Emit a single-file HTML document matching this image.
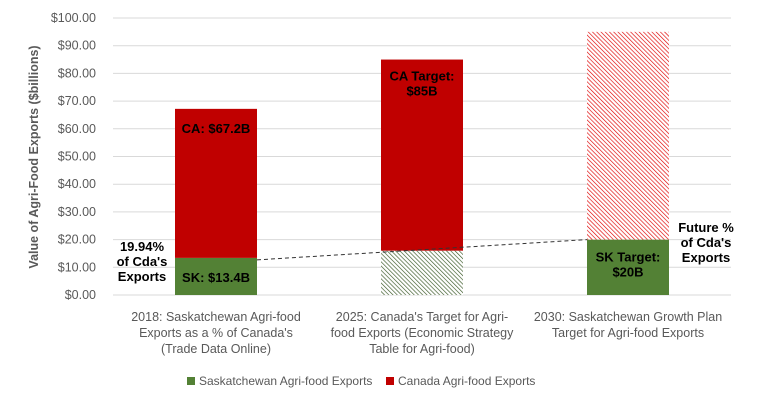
<!DOCTYPE html>
<html><head><meta charset="utf-8"><style>
body{margin:0;background:#fff;}
svg text{font-family:"Liberation Sans",Arial,sans-serif;}
</style></head><body>
<svg id="c" width="760" height="402" viewBox="0 0 760 402">
<defs>
<pattern id="hg" width="3" height="3" patternUnits="userSpaceOnUse" patternTransform="rotate(-45)"><rect width="3" height="3" fill="#fff"/><line x1="0" y1="0" x2="0" y2="3" stroke="#375623" stroke-width="1.3"/></pattern>
<pattern id="hr" width="3" height="3" patternUnits="userSpaceOnUse" patternTransform="rotate(-45)"><rect width="3" height="3" fill="#fff"/><line x1="0" y1="0" x2="0" y2="3" stroke="#e00000" stroke-width="1.3"/></pattern>
</defs>
<g id="grid"></g><g id="bars"></g><g id="labels"></g>
</svg>
<script>
const categories=[["2018: Saskatchewan Agri-food","Exports as a % of Canada's","(Trade Data Online)"],["2025: Canada's Target for Agri-","food Exports (Economic Strategy","Table for Agri-food)"],["2030: Saskatchewan Growth Plan","Target for Agri-food Exports"]];
const skValues=[13.4,16,20];
const caValues=[67.2,85,95];
const skProjected=[false,true,false];
const caProjected=[false,false,true];
const yTicks=[0,10,20,30,40,50,60,70,80,90,100];
const NS="http://www.w3.org/2000/svg";
const X0=113,PW=618,Y0=295,Y1=18;
const y=v=>Y0-(v/100)*(Y0-Y1);
const xc=i=>X0+PW/categories.length*(i+0.5);
const BW=82;
function mk(t,a,p){const e=document.createElementNS(NS,t);for(const k in a)e.setAttribute(k,a[k]);p.appendChild(e);return e;}
const g=document.getElementById('grid'),b=document.getElementById('bars'),l=document.getElementById('labels');
yTicks.forEach(v=>{
 const ln=mk('line',{x1:X0,x2:X0+PW,y1:y(v),y2:y(v),stroke:'#d9d9d9','stroke-width':1},g);
 
 
 const t=mk('text',{x:96,y:y(v)+4,'text-anchor':'end','font-size':12.5,fill:'#595959'},g);
 t.textContent='$'+v.toFixed(2);
 
 
});
const yt=mk('text',{x:0,y:0,transform:'translate(38,157) rotate(-90)','text-anchor':'middle','font-size':12.5,'font-weight':'bold',fill:'#595959'},g);
yt.textContent='Value of Agri-Food Exports ($billions)';


categories.forEach((c,i)=>{
 const x=xc(i)-BW/2;
 const s=mk('rect',{x:x,y:y(skValues[i]),width:BW,height:y(0)-y(skValues[i]),fill:skProjected[i]?'url(#hg)':'#538135'},b);
 
 
 const r=mk('rect',{x:x,y:y(caValues[i]),width:BW,height:y(skValues[i])-y(caValues[i]),fill:caProjected[i]?'url(#hr)':'#c00000'},b);
 
 
 c.forEach((line,j)=>{
  const t=mk('text',{x:xc(i),y:321+j*16,'text-anchor':'middle','font-size':12.5,fill:'#595959'},l);
  t.textContent=line;
  
  
 });
});
const dl=mk('line',{x1:xc(0)+BW/2,y1:y(skValues[0])+2,x2:xc(2)-BW/2,y2:y(skValues[2]),stroke:'#333','stroke-width':1,'stroke-dasharray':'4,3'},l);


function txt(lines,x,yy,name,fill,anchor){lines.forEach((s,j)=>{const t=mk('text',{x:x,y:yy+j*15,'text-anchor':anchor||'middle','font-size':13,'font-weight':'bold',fill:fill||'#000'},l);t.textContent=s;});}
txt(['CA: $'+caValues[0]+'B'],xc(0),y(caValues[0])+24,'ca-2018-label');
txt(['SK: $'+skValues[0]+'B'],xc(0),y(skValues[0])+24,'sk-2018-label');
txt(['CA Target:','$'+caValues[1]+'B'],xc(1),y(caValues[1])+21,'ca-target-label');
txt(['SK Target:','$'+skValues[2]+'B'],xc(2),y(skValues[2])+22,'sk-target-label');
txt(['19.94%','of Cda\'s','Exports'],142,251,'share-2018-label');
txt(['Future %','of Cda\'s','Exports'],706,232,'future-share-label');
const leg=[['#538135','Saskatchewan Agri-food Exports',187],['#c00000','Canada Agri-food Exports',386]];
leg.forEach(e=>{
 const r=mk('rect',{x:e[2],y:377,width:8,height:8,fill:e[0]},l);
 
 
 const t=mk('text',{x:e[2]+12,y:385,'font-size':12,fill:'#595959'},l);
 t.textContent=e[1];
 
 
});
</script>
</body></html>
